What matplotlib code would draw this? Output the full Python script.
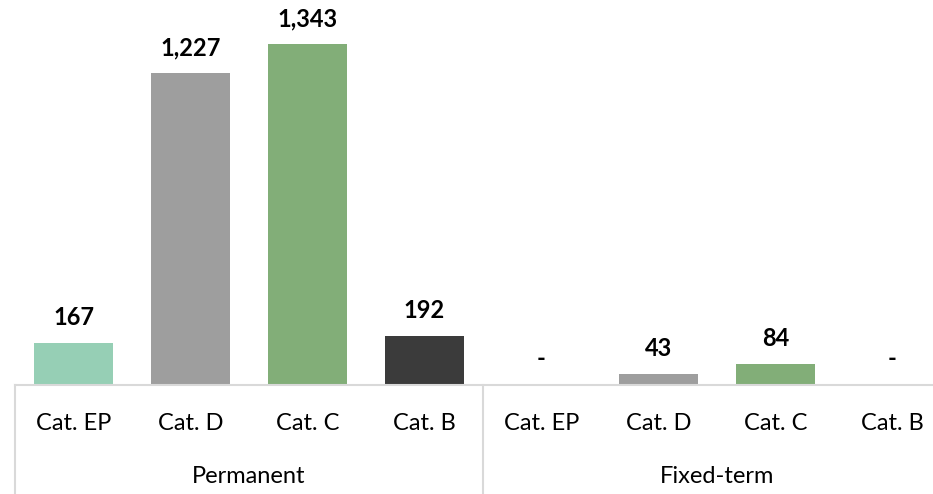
import numpy as np
import matplotlib.pyplot as plt

plt.rcParams['font.family'] = ['Lato', 'DejaVu Sans']

groups = ['Permanent', 'Fixed-term']
categories = ['Cat. EP', 'Cat. D', 'Cat. C', 'Cat. B']
permanent = [167, 1227, 1343, 192]
fixed_term = [0, 43, 84, 0]
colors = ['#96CFB5', '#9E9E9E', '#82AE78', '#3B3B3B']

values = permanent + fixed_term
x = np.arange(len(values))

fig = plt.figure(figsize=(9.33, 4.94), dpi=100, facecolor='w')
ax = fig.add_axes([15 / 933, 109 / 494, 918 / 933, 385 / 494])

ax.bar(x, values, width=0.68, color=colors * 2, zorder=2)
ax.set_xlim(-0.5, -0.5 + 918 / 117)
ax.set_ylim(0, 1516)

for s in ['top', 'right', 'left']:
    ax.spines[s].set_visible(False)
ax.spines['bottom'].set_color('#D9D9D9')
ax.spines['bottom'].set_linewidth(1.5)
ax.set_yticks([])
ax.set_xticks([])

# value labels
for xi, v in zip(x, values):
    if v == 0:
        ax.annotate('-', (xi, 0), xytext=(0, 11), textcoords='offset points',
                    ha='center', va='bottom', fontsize=17, fontweight='bold')
    else:
        ax.annotate(f'{v:,}', (xi, v), xytext=(0, 10), textcoords='offset points',
                    ha='center', va='bottom', fontsize=17, fontweight='bold')

# category and group labels below the axis
tr = ax.get_xaxis_transform()
ybot = -109 / 385
for xi, lab in zip(x, categories * 2):
    ax.text(xi, -38 / 385, lab, transform=tr, ha='center', va='center', fontsize=17)
for gi, g in enumerate(groups):
    ax.text(gi * 4 + 1.5, -91 / 385, g, transform=tr, ha='center', va='center', fontsize=17)
for sep in [-0.5, 3.5, 7.5]:
    ax.plot([sep, sep], [0, ybot], transform=tr, color='#D9D9D9', lw=1.5, clip_on=False)

plt.savefig('out.png', dpi=100)
